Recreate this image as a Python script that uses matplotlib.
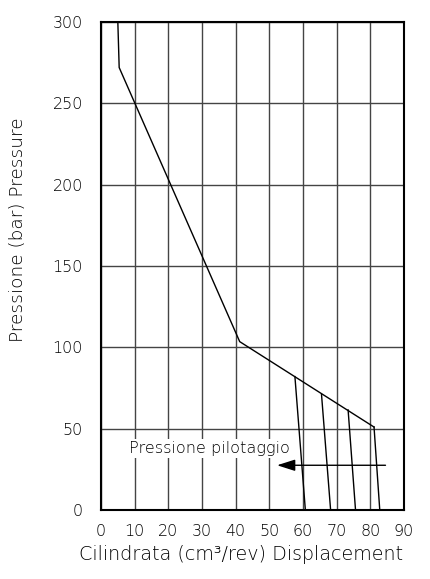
import matplotlib.pyplot as plt

# main characteristic curve (displacement cm3/rev, pressure bar)
curve_x = [5, 5.4, 41.2, 81.1]
curve_y = [300, 272, 103.5, 51]

# pilot pressure branches: (top x, top y, bottom x)
branch_top_x = [57.6, 65.5, 73.4, 81.1]
branch_top_y = [82, 71, 61.5, 51]
branch_bot_x = [60.7, 68.2, 75.6, 82.8]

x_ticks = list(range(0, 100, 10))
y_ticks = list(range(0, 350, 50))

plt.rcParams["font.weight"] = "light"

fig = plt.figure(figsize=(4.30, 5.79), dpi=100)
ax = fig.add_axes([101 / 430, 1 - 510 / 579, 303 / 430, 488 / 579])

ax.set_xlim(0, 90)
ax.set_ylim(0, 300)
ax.set_xticks(x_ticks)
ax.set_yticks(y_ticks)
ax.grid(True, color="#444444", linewidth=1.0)
ax.set_axisbelow(True)
ax.tick_params(length=0, labelsize=11.5)
ax.tick_params(axis="y", pad=13)
ax.tick_params(axis="x", pad=10)
for s in ax.spines.values():
    s.set_linewidth(1.5)
    s.set_color("black")

ax.plot(curve_x, curve_y, color="black", linewidth=1.0)
for tx, ty, bx in zip(branch_top_x, branch_top_y, branch_bot_x):
    ax.plot([tx, bx], [ty, 0], color="black", linewidth=1.0)

# pilot pressure arrow
ax.annotate("", xy=(52.3, 27.5), xytext=(84.5, 27.5),
            arrowprops=dict(arrowstyle="-|>,head_length=1.1,head_width=0.35",
                            color="black", linewidth=1.0, shrinkA=0, shrinkB=0))
ax.text(8.4, 38, "Pressione pilotaggio", fontsize=11.6, va="center", ha="left",
        bbox=dict(facecolor="white", edgecolor="none", pad=1.5))

fig.text(18 / 430, 1 - 230 / 579, "Pressione (bar) Pressure", rotation=90,
         ha="center", va="center", fontsize=13.3)
fig.text(241 / 430, 1 - 554 / 579, "Cilindrata (cm³/rev) Displacement",
         ha="center", va="center", fontsize=13.8)

fig.savefig("out.png", dpi=100)
